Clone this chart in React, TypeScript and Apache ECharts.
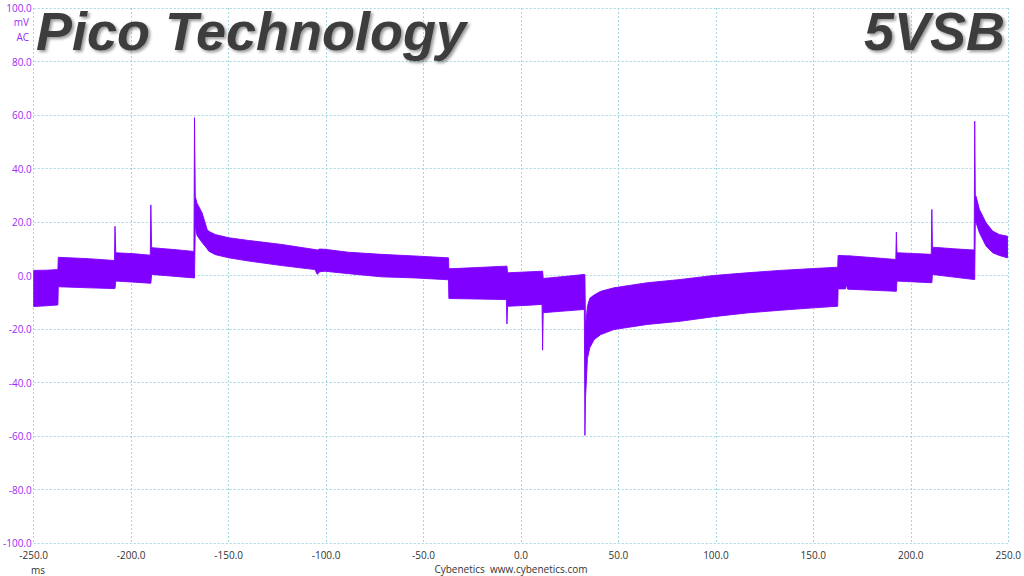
import React, { useEffect, useRef } from "react";
import * as echarts from "echarts";

// Envelope of the ripple trace (mV) against time (ms)
const timeMs = [
  -250, -243, -237.6, -237.4, -222, -208.6, -208.3, -207.9, -198, -190.2,
  -189.9, -189.5, -178, -167.8, -167.5, -167.1, -166.2, -163.6, -161.0, -160.2,
  -156.8, -149.9, -139.7, -122.7, -105.7, -104.5, -103.3, -100.6, -88.6, -71.6,
  -54.5, -37.2, -37.0, -22, -7.5, -7.2, -6.9, 2, 10.8, 11.1,
  11.4, 22, 32.5, 32.8, 33.1, 34.1, 35.3, 37.5, 40.9, 47.7,
  64.8, 81.8, 98.8, 115.9, 132.9, 150.0, 162.5, 162.7, 166.5, 167,
  167.6, 180, 192.3, 192.6, 192.9, 202, 210.5, 210.8, 211.1, 222,
  232.5, 232.8, 233.1, 233.5, 235.2, 238.6, 242.0, 245.4, 249.6,
];
const upperMv = [
  1.9, 2.0, 2.2, 6.8, 6.3, 5.6, 18.4, 8.5, 8.1, 7.6,
  26.4, 10.4, 9.7, 9.0, 59.0, 29.5, 27.0, 23.4, 17.2, 16.5,
  15.3, 14.1, 13.1, 11.6, 9.7, 9.5, 9.9, 9.8, 8.7, 7.9,
  7.3, 6.6, 2.5, 3.0, 3.5, 3.5, 1.0, 1.3, 1.6, 1.6,
  -1.1, -0.4, 0.4, 0.4, -19.0, -11.5, -8.5, -7.3, -5.9, -4.6,
  -2.7, -1.5, 0.0, 1.0, 1.9, 2.6, 3.1, 7.5, 7.4, 7.4,
  7.4, 6.7, 6.0, 16.2, 8.5, 8.2, 7.9, 24.7, 10.6, 10.0,
  9.5, 57.7, 30.0, 29.6, 24.7, 19.7, 16.6, 15.3, 14.7,
];
const lowerMv = [
  -11.6, -11.3, -11.0, -4.2, -4.6, -4.9, -4.9, -2.1, -2.5, -2.9,
  -2.9, 0.4, -0.3, -0.9, -0.9, 18.5, 15.0, 12.3, 10.0, 9.1,
  7.8, 6.6, 5.4, 3.7, 2.2, 0.4, 1.4, 1.6, 0.7, -0.5,
  -0.9, -1.6, -8.6, -8.8, -9.0, -18.1, -11.5, -11.2, -10.8, -27.9,
  -13.9, -13.3, -12.7, -59.8, -46.0, -31.0, -27.0, -24.0, -22.1, -20.2,
  -18.3, -17.1, -15.4, -14.0, -13.0, -12.1, -11.5, -5.0, -5.0, -3.4,
  -5.1, -5.5, -5.9, -5.9, -2.1, -2.4, -2.7, -2.7, 0.4, -0.6,
  -1.5, -1.5, 20.0, 19.7, 16.0, 11.0, 8.5, 7.5, 6.6,
];

const xMin = -250;
const xMax = 250;
const xStep = 50;
const yMin = -100;
const yMax = 100;
const yStep = 20;
const yUnitLines = ["mV", "AC"];
const xUnit = "ms";
const footerText = "Cybenetics  www.cybenetics.com";
const titleLeft = "Pico Technology";
const titleRight = "5VSB";

const TRACE = "#7f00ff";
const YLABEL = "#9a2cf5";
const GRIDLINE = "#a6d6e0";
const FONT = "Open Sans";

export default function App() {
  const ref = useRef<HTMLDivElement>(null);
  useEffect(() => {
    const chart = echarts.init(ref.current!, null, { renderer: "svg" });
    const rows = timeMs.map((t, i) => [t, lowerMv[i], upperMv[i]]);
    const titleStyle = {
      font: "italic bold 54px 'Liberation Sans', Arial, sans-serif",
      fill: "#3e3e3e",
      textVerticalAlign: "middle",
      textShadowColor: "rgba(0,0,0,0.4)",
      textShadowOffsetX: 2,
      textShadowOffsetY: 2,
      textShadowBlur: 3,
    };
    chart.setOption({
      animation: false,
      backgroundColor: "#ffffff",
      grid: { left: 31, right: 15, top: 8, bottom: 33 },
      xAxis: {
        type: "value",
        min: xMin,
        max: xMax,
        interval: xStep,
        axisLine: { show: false },
        axisTick: { show: false },
        axisLabel: {
          formatter: (v: number) => v.toFixed(1),
          color: "#333333",
          fontSize: 10,
          fontFamily: FONT,
          margin: 7,
          showMinLabel: true,
          showMaxLabel: true,
        },
        splitLine: { show: true, lineStyle: { color: GRIDLINE, type: [2, 2], width: 1 } },
      },
      yAxis: {
        type: "value",
        min: yMin,
        max: yMax,
        interval: yStep,
        axisLine: { show: false },
        axisTick: { show: false },
        axisLabel: {
          formatter: (v: number) => v.toFixed(1),
          color: YLABEL,
          fontSize: 10,
          fontFamily: FONT,
          margin: 2,
          showMinLabel: true,
          showMaxLabel: true,
        },
        splitLine: { show: true, lineStyle: { color: GRIDLINE, type: [2, 2], width: 1 } },
      },
      series: [
        {
          type: "custom",
          data: rows,
          encode: { x: 0, y: [1, 2] },
          clip: true,
          renderItem: (params: any, api: any) => {
            if (params.dataIndex !== 0) return { type: "group", children: [] };
            const top = rows.map((r) => api.coord([r[0], r[2]]));
            const bot = rows.map((r) => api.coord([r[0], r[1]])).reverse();
            return {
              type: "polygon",
              shape: { points: top.concat(bot) },
              style: { fill: TRACE, stroke: TRACE, lineWidth: 0.9, lineJoin: "miter" },
            };
          },
        },
      ],
      graphic: [
        {
          type: "text",
          x: 36,
          y: 31,
          style: { ...titleStyle, text: titleLeft, textAlign: "left" },
          z: 10,
        },
        {
          type: "text",
          x: 1005,
          y: 31,
          style: { ...titleStyle, text: titleRight, textAlign: "right" },
          z: 10,
        },
        ...yUnitLines.map((s, i) => ({
          type: "text",
          x: 29,
          y: 22 + i * 15,
          style: {
            text: s,
            fill: YLABEL,
            font: `10px '${FONT}'`,
            textAlign: "right",
            textVerticalAlign: "middle",
          },
        })),
        {
          type: "text",
          x: 38,
          y: 570,
          style: { text: xUnit, fill: "#333333", font: `10px '${FONT}'`, textAlign: "center", textVerticalAlign: "middle" },
        },
        {
          type: "text",
          x: 511,
          y: 569,
          style: { text: footerText, fill: "#333333", font: `10px '${FONT}'`, textAlign: "center", textVerticalAlign: "middle" },
        },
      ],
    });
    return () => chart.dispose();
  }, []);
  return (
    <div
      ref={ref}
      style={{ position: "fixed", left: 0, top: 0, width: 1024, height: 576, background: "#fff" }}
    />
  );
}
